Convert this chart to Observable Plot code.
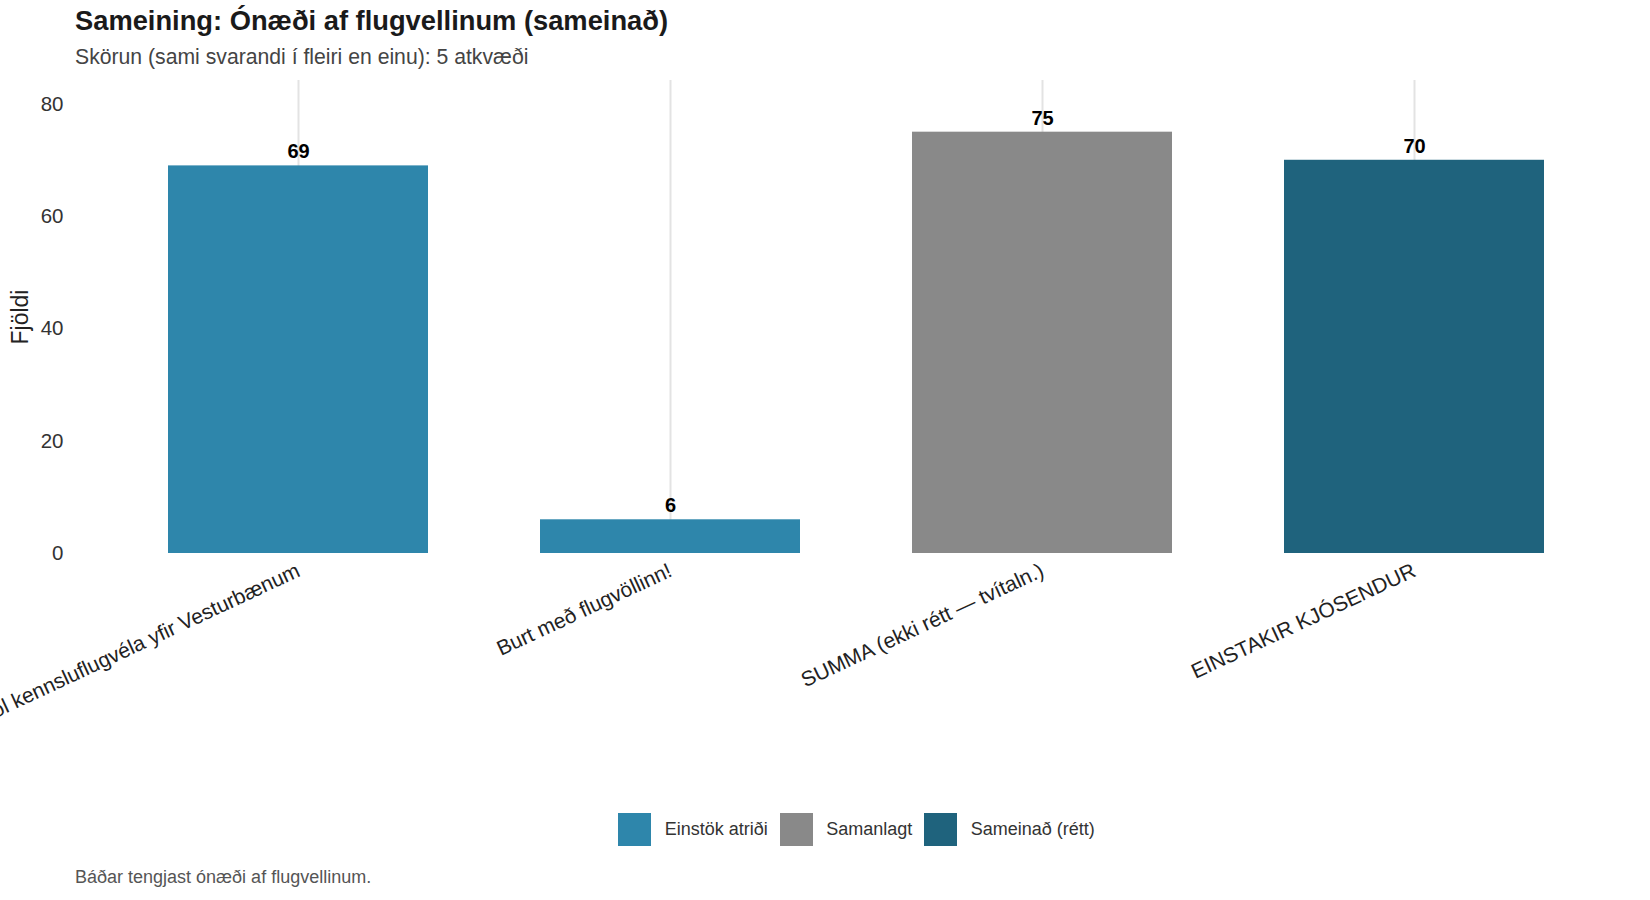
<!DOCTYPE html>
<html>
<head>
<meta charset="utf-8">
<script src="https://cdn.jsdelivr.net/npm/d3@7"></script>
<script src="https://cdn.jsdelivr.net/npm/@observablehq/plot@0.6"></script>
<style>
  html, body { margin: 0; padding: 0; background: #fff; }
  body { width: 1650px; height: 900px; position: relative; overflow: hidden; font-family: "Liberation Sans", Arial, sans-serif; }
  #title { position: absolute; left: 75px; top: 5px; font-size: 27.3px; font-weight: bold; color: #1a1a1a; white-space: nowrap; }
  #subtitle { position: absolute; left: 75px; top: 45px; font-size: 21.2px; color: #444; white-space: nowrap; }
  #chart { position: absolute; left: 0; top: 70px; }
  #chart svg { overflow: visible; }
  #legend { position: absolute; top: 813px; left: 75px; width: 1563px; display: flex; justify-content: center; align-items: center; font-size: 18px; color: #333; }
  #legend .item { display: flex; align-items: center; margin: 0 6px; }
  #legend .sw { width: 33px; height: 33px; margin-right: 13.5px; }
  #caption { position: absolute; left: 75px; top: 867px; font-size: 18px; color: #555; white-space: nowrap; }
</style>
</head>
<body>
<div id="title">Sameining: Ónæði af flugvellinum (sameinað)</div>
<div id="subtitle">Skörun (sami svarandi í fleiri en einu): 5 atkvæði</div>
<div id="chart"></div>
<div id="legend"></div>
<div id="caption">Báðar tengjast ónæði af flugvellinum.</div>
<script>
const categories = [
  "Hringsól kennsluflugvéla yfir Vesturbænum",
  "Burt með flugvöllinn!",
  "SUMMA (ekki rétt — tvítaln.)",
  "EINSTAKIR KJÓSENDUR"
];
const values = [69, 6, 75, 70];
const groups = ["Einstök atriði", "Einstök atriði", "Samanlagt", "Sameinað (rétt)"];
const groupNames = ["Einstök atriði", "Samanlagt", "Sameinað (rétt)"];
const groupColors = ["#2e86ab", "#898989", "#1f637d"];
const yTicks = [0, 20, 40, 60, 80];

const data = categories.map((c, i) => ({category: c, value: values[i], group: groups[i]}));

const chart = Plot.plot({
  width: 1650,
  height: 633,
  marginLeft: 75,
  marginRight: 12,
  marginTop: 10,
  marginBottom: 150,
  style: {fontFamily: "Liberation Sans, Arial, sans-serif", background: "transparent"},
  x: {domain: categories, paddingInner: 0.3, paddingOuter: 0.25, label: null},
  y: {domain: [0, 84.2], label: null},
  color: {domain: groupNames, range: groupColors},
  marks: [
    Plot.ruleX(categories, {x: d => d, y1: 0, y2: 84.2, stroke: "#e3e3e3", strokeWidth: 2}),
    Plot.barY(data, {x: "category", y: "value", fill: "group"}),
    Plot.text(data, {x: "category", y: "value", text: d => String(d.value), dy: -14, fontWeight: "bold", fontSize: 20, fill: "#000"}),
    Plot.axisY({ticks: yTicks, tickSize: 0, tickPadding: 12, fontSize: 20.5, color: "#333", label: null}),
    Plot.axisX({tickSize: 0, tickRotate: -25, tickPadding: 16, fontSize: 21, color: "#222", label: null, textAnchor: "end"}),
    Plot.text(["Fjöldi"], {frameAnchor: "left", dx: -55, rotate: -90, textAnchor: "middle", fontSize: 23, fill: "#222"})
  ]
});
document.getElementById("chart").appendChild(chart);

const legend = document.getElementById("legend");
groupNames.forEach((g, i) => {
  const item = document.createElement("div");
  item.className = "item";
  const sw = document.createElement("div");
  sw.className = "sw";
  sw.style.background = groupColors[i];
  const lab = document.createElement("span");
  lab.textContent = g;
  item.appendChild(sw);
  item.appendChild(lab);
  legend.appendChild(item);
});
</script>
</body>
</html>
